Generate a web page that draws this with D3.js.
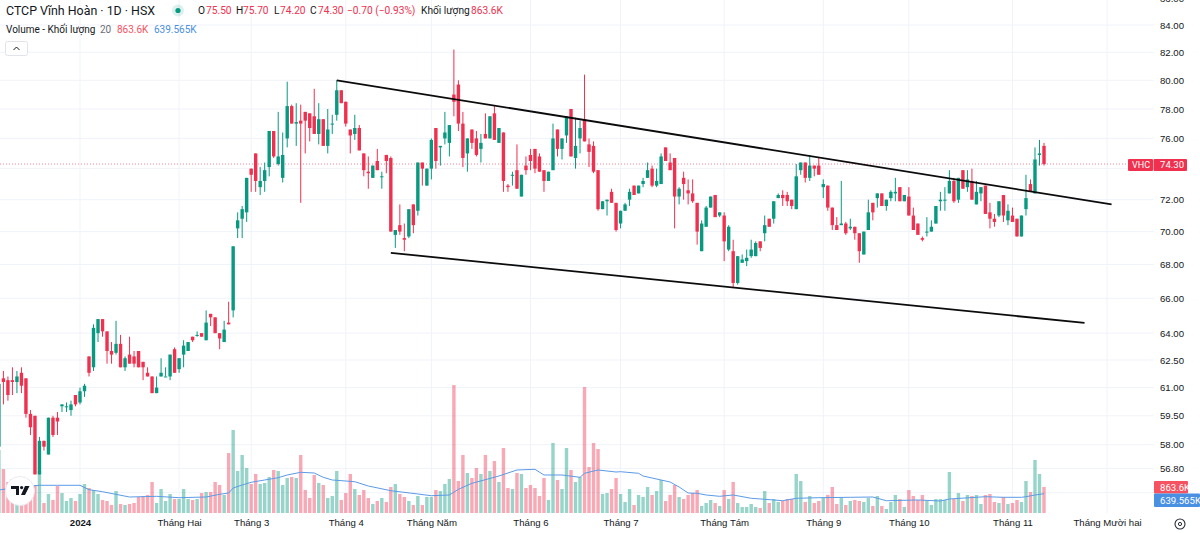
<!DOCTYPE html>
<html>
<head>
<meta charset="utf-8">
<script src="https://cdn.jsdelivr.net/npm/d3@7"></script>
<style>
  html, body { margin: 0; padding: 0; background: #fff; }
  svg { display: block; font-family: Roboto, "Liberation Sans", Arial, sans-serif; }
</style>
</head>
<body>
<div id="chart"></div>
<script>
// bar 0 is 2 Jan 2024, the first visible session sits 18 bars before it
const firstBar = -18;

const opens = [
  57.9,61.5,61.4,61.4,61.3,61.8,61.5,59.6,59.5,56.5,
  58.2,57.5,59.4,59.4,60,60,59.8,60.6,60.2,60.8,
  62.7,62.1,64,64.8,64.1,63,62.9,63.4,62.1,62.8,
  62.7,63,62.4,61.8,61.6,60.7,61.6,61.6,61.6,63.1,
  62,62.8,63,63.8,63.9,64,63.6,65.1,64.9,64,
  63.5,64.6,65.3,70.2,70.8,71.2,74,75,72.8,73.2,
  74.1,76.5,74.3,73.4,76,78.2,77,77.2,77.8,77.7,
  77.5,76.3,77.3,75.5,77,77.6,79.3,78.5,76.6,76.3,
  76.7,75,73.8,73.4,74.5,73.5,74.9,74.7,69.8,70.4,
  69.6,69.7,71.7,71.3,74.4,72.9,74,76.7,75.4,76,
  75.7,79,79.7,77,75,76.6,76,75.3,76.3,76,
  77.7,75.7,76.4,72.9,73.6,73.9,72.2,74.2,74.9,75.3,
  74.8,73.9,73.2,73.9,76.6,75.3,76.2,78,74.7,76,
  77.3,75.6,75.5,73.9,71.4,71.9,72.5,71.8,70.5,71.3,
  72,72.9,72.4,73,73.4,74,72.9,73,75.4,74.4,
  74.7,72.2,73.4,72.6,72.4,71.8,68.8,70.3,71.5,72.3,
  71,71,68.9,68.8,66.9,68.1,68.2,68.5,68.5,69.4,
  69.9,70.8,70.8,72.1,72.3,72.3,72,71.4,73.9,74.4,
  73.4,74.2,74.2,72.8,72.9,71.5,70.4,70.4,70.5,70.2,
  70.3,69.9,68.6,70.1,71.8,72.1,72.4,71.6,72.1,72.4,
  72.8,71.9,72.2,71,70.5,69.6,70,70,70.5,71.9,
  72,72.4,73.2,72,73.9,72.8,73.2,71.7,72.4,72.9,
  71.2,70.8,71,72.3,70.7,71,70.8,69.7,71.4,73,
  72.4,74.9,75.5
];

const highs = [
  61.5,61.9,61.6,62.1,61.9,62.1,61.5,59.8,59.5,58.4,
  58.2,59.4,59.5,59.7,60.1,60.2,60.3,60.6,61,61.2,
  62.7,64.5,64.8,64.8,64.1,63.5,64.7,63.9,62.7,63.8,
  63,63,62.4,62.1,61.6,61.6,62.6,62.1,62.8,63.2,
  62.6,63.6,63.5,63.8,64.1,64,65.3,65.1,64.9,64,
  64.7,65.8,69.1,71.2,71.6,73.4,74,75,74.1,74.4,
  76.5,76.5,77.8,76.4,79.9,78.3,78.4,78.3,77.8,77.7,
  79.4,78.4,77.3,78,77.6,80,79.3,78.5,76.6,77.6,
  76.9,75,74.8,74.2,75.3,73.8,74.9,74.8,70.1,71.7,
  70.5,71.4,71.7,74.4,74.4,74,76,76.7,75.5,77.8,
  76.9,82.2,80,77.8,76,76.6,76.5,76.3,77.7,77.5,
  78.2,76.7,76.4,73,73.8,75.6,73.6,74.8,75.3,75.3,
  75,73.9,73.8,77,76.6,76,77.5,78,77.4,77.2,
  80.4,76,75.8,73.9,71.9,72,72.7,71.8,71.3,71.8,
  72.7,72.9,72.9,73.4,74.4,74.2,74,75,75.4,75,
  74.7,72.8,73.8,73.3,73.3,71.8,70.7,71.6,72.2,72.3,
  71.2,71.2,70.4,69.5,68.5,68.6,68.9,69.5,69.4,69.4,
  71,70.8,71.9,72.4,72.6,72.5,72,74.3,74.4,74.4,
  74.9,74.2,74.7,73.3,72.9,71.5,70.9,73.2,70.6,70.8,
  70.3,69.9,70,72,71.8,72.4,72.4,72,72.6,73.4,
  72.8,72.3,72.8,71.5,70.5,69.7,70.9,70.7,71.6,72.5,
  72.8,73.9,73.4,73.4,73.9,73.9,74,73.2,72.8,72.9,
  71.8,71.1,71.9,72.3,71.7,71.5,70.8,71,73.6,73.3,
  75.4,75.9,75.7
];

const lows = [
  57.6,60.1,60.3,60.6,60.7,60.7,59.4,58.5,56.5,56.5,
  57.7,57.5,58.4,58.5,59.7,59.7,59.5,60,60.1,60.5,
  61.6,61.9,63.5,63.8,62.3,62.3,62.8,62.1,61.9,62.3,
  62.1,62.1,61.4,61.6,60.7,60.7,61.6,61.6,61.4,61.8,
  61.8,62.1,63,63.5,63.8,63.8,63.6,64.4,64,63.1,
  63.5,64.5,64.9,69.6,69.6,70.6,72.5,72.5,72.3,72.5,
  73.5,74.7,74.2,73.1,75.4,77,75.5,71.8,75,75.8,
  76.3,75.6,75.5,75,76.3,77.2,78.4,76.8,75,75.9,
  75.2,73.5,72.7,73.4,73.9,72.7,73.7,70,69,69.8,
  68.8,69.6,69.9,71,72.9,72.9,73.3,74,74.2,75.6,
  74.8,77.5,76.5,74.1,73.8,75.3,74.8,74.4,76,76,
  75.9,75.7,72.5,72.5,72.9,72.7,72.2,73.6,73.9,73.7,
  73.8,72.5,73.2,73.9,74.8,74.6,75.7,74.8,74,75,
  75.8,74.1,73.7,71.3,71.4,71,71.8,70,70.2,71.3,
  71.6,72.3,72.4,72.8,73.4,72.8,72.8,73,74.5,73.9,
  70.2,71.7,72,71.7,71.8,69.2,68.8,70.3,71.5,70.9,
  70.9,68.2,68.8,66.6,66.8,68.1,67.9,68.4,68.5,68.8,
  69.4,70.3,70.5,72.1,71.6,71.6,71.4,71.4,73.6,73.1,
  73.2,73.5,73.6,72.1,71.3,70.1,70.1,70.4,69.8,70.1,
  69.5,68.1,68.6,70.1,70.7,71.5,71.6,71.3,71.9,71.9,
  71.9,71.9,71,70.1,69.8,69.4,69.7,70,70.5,71.3,
  71.3,72.4,71.8,71.8,72.7,72.5,72,71.7,71.9,71.1,
  70.2,70.3,70.9,70.6,70.4,70.6,69.7,69.7,71,72.5,
  72.4,74.2,74.2
];

const closes = [
  61.2,61.3,60.6,61.3,61.6,61.1,59.6,58.9,56.5,58.2,
  57.9,59.4,58.5,59.2,60.1,60,60.1,60.1,60.8,61.1,
  61.8,64.3,64.8,64.1,63,62.8,63.4,62.1,62.6,62.3,
  62.3,62.1,62.1,61.6,60.7,61,61.8,61.6,62.8,61.8,
  62.6,63.3,63.5,63.6,63.9,63.8,64.6,64.9,64,63.7,
  64.2,64.5,69.1,70.7,71.4,73.4,73.6,73.2,73.2,73.9,
  76.5,74.8,74.8,74.9,78.2,77,77.1,77,77.2,76.7,
  76.3,77.3,75.5,76.6,77,79.3,78.4,77,76.2,76.7,
  75.2,73.9,73.7,74.2,73.9,73.5,74.5,70,70.1,70,
  69.5,71.4,70.4,74.4,74,74,75.9,74.5,75.5,76.4,
  76.9,78.5,77,74.7,76,75.7,74.9,75.7,76,77.5,
  75.9,76.7,73.2,72.8,73.6,72.7,73.6,73.9,74.5,74,
  73.8,73.2,73.8,76,75.3,76,77.5,74.8,75.5,76.7,
  75.8,75.1,73.8,71.4,71.9,72,71.8,70.1,71.3,71.7,
  72.5,72.3,72.9,73.2,73.9,72.9,73.2,74.8,74.5,73.9,
  72.2,72.7,73,72.4,71.9,70,70.5,71.5,72.2,70.9,
  71.2,69.4,70.3,66.9,68.5,68.3,68.4,68.9,69.3,69,
  70.4,70.3,71.9,72.3,72.1,71.9,71.6,73.5,74.4,73.4,
  74.2,74,73.6,73,71.5,70.4,70.1,70.5,69.9,70.3,
  69.9,68.8,70,71.2,71.2,72.4,71.6,72,72.5,72.5,
  71.9,72.3,71,70.1,69.8,69.5,70,70.3,71.6,72,
  72,73.2,71.9,73.4,72.7,73.3,72,72.5,72.8,71.1,
  70.8,70.6,71.9,71,71.3,70.6,69.7,71,72.1,72.5,
  74.6,75,74.3
];

// volume in thousands of shares
const volumes = [
  2092,1461,1029,1129,764,598,697,764,930,1394,
  332,631,432,896,664,398,498,398,631,963,
  830,764,631,432,398,266,730,299,266,299,
  332,531,564,598,1029,332,797,398,631,465,
  465,797,465,432,465,664,697,697,1029,930,
  598,1992,2756,1394,1926,1494,963,1295,963,996,
  1195,1428,1394,930,1162,1195,1162,1926,764,498,
  1262,996,930,498,564,1394,432,664,1295,797,
  598,764,498,299,398,498,365,863,963,631,
  531,398,266,564,266,531,531,764,730,963,
  1129,4250,1062,1926,1328,1162,1494,1295,1926,1394,
  1726,1029,2158,830,797,1328,1295,830,930,830,
  564,1162,432,2324,1096,797,2158,1428,1029,1195,
  4183,1527,2324,2125,631,664,797,1162,631,365,
  797,266,598,531,863,598,730,1096,398,598,
  930,531,465,598,664,764,232,332,432,332,
  232,764,465,1029,332,199,199,299,199,166,
  730,332,465,365,398,465,465,1295,1062,365,
  564,332,398,498,598,863,299,498,266,398,
  432,398,365,498,232,564,232,133,365,598,
  465,199,764,564,432,598,398,266,465,465,
  432,1361,465,664,398,598,564,598,299,598,
  631,365,332,531,299,332,432,365,1062,697,
  1760,1295,863.6
];

// 20 session volume average at its visible bends
const maBars = [-18,-14,-9,-5,0,2,5,11,17,22,28,31,33,34,36,38,41,44,46,49,52,54,56,61,64,69,75,78,82,84,87,93,97,101,103,107,111,112,115,119,120,124,125,127,131,133,135,137,139,142,145,149,152,156,159,164,171,176,179,186,191,193,201,205,209,210,212,214];
const maValues = [764,847,920,920,920,774,707,531,554,508,531,621,664,830,930,1019,1096,1172,1262,1351,1328,1185,1096,1039,896,740,631,574,598,787,986,1228,1428,1451,1262,1262,1185,1318,1428,1361,1371,1318,1228,1162,1029,863,664,654,598,554,598,488,455,408,488,508,521,531,408,432,398,465,541,521,521,541,598,639.565];

// 74 and 55.6 have gridlines but their labels sit under the tags
const gridTicks = [86,84,82,80,78,76,74,72,70,68,66,64,62.5,61,59.5,58,56.8,55.6];
const priceTicks = [86,84,82,80,78,76,72,70,68,66,64,62.5,61,59.5,58,56.8];
const monthBars = [0,22,38,59,78,100,120,143,165,184,207,228];
const monthLabels = ['2024','Tháng Hai','Tháng 3','Tháng 4','Tháng Năm','Tháng 6','Tháng 7','Tháng Tám','Tháng 9','Tháng 10','Tháng 11','Tháng Mười hai'];

// drawn channel: [bar, price] at both ends
const upperLine = [[57,80],[229,71.7]];
const lowerLine = [[69,68.7],[223,64.58]];

const lastPrice = 74.3;
const lastVolume = 863.6;
const lastMa = 639.565;

const RED = '#f0304f';
const GREEN = '#089981';
const GRID = '#f0f3fa';
const INK = '#131722';
const AXIS_FONT = 9.6;

const width = 1200;
const height = 533;

const bars = opens.map((o, i) => ({
  bar: firstBar + i, o, h: highs[i], l: lows[i], c: closes[i], v: volumes[i]
}));

const xScale = d3.scaleLinear().domain([0, 214]).range([80, 1044]);
const yScale = d3.scaleLog().domain([84, 55.6]).range([25, 492.6]);
const vScale = d3.scaleLinear().domain([0, 4250]).range([513, 385]);

const svg = d3.select('#chart').append('svg')
  .attr('width', width)
  .attr('height', height)
  .attr('viewBox', `0 0 ${width} ${height}`);

// gridlines
svg.append('g').selectAll('line').data(gridTicks).join('line')
  .attr('x1', 0).attr('x2', 1154)
  .attr('y1', d => yScale(d)).attr('y2', d => yScale(d))
  .attr('stroke', GRID);
svg.append('g').selectAll('line').data(monthBars).join('line')
  .attr('x1', d => xScale(d)).attr('x2', d => xScale(d))
  .attr('y1', 0).attr('y2', 513)
  .attr('stroke', GRID);

// volume pane
const bodyW = 3.4;
svg.append('g').selectAll('rect').data(bars).join('rect')
  .attr('x', d => xScale(d.bar) - bodyW / 2)
  .attr('y', d => vScale(d.v))
  .attr('width', bodyW)
  .attr('height', d => vScale(0) - vScale(d.v))
  .attr('fill', d => d.c < d.o ? RED : GREEN)
  .attr('fill-opacity', 0.42);

const maLine = d3.line()
  .x((d, i) => xScale(maBars[i]))
  .y(d => vScale(d));
svg.append('path')
  .attr('d', maLine(maValues))
  .attr('fill', 'none')
  .attr('stroke', '#5b9be6')
  .attr('stroke-width', 1);

// last price line
svg.append('line')
  .attr('x1', 0).attr('x2', 1128)
  .attr('y1', yScale(lastPrice)).attr('y2', yScale(lastPrice))
  .attr('stroke', RED)
  .attr('stroke-opacity', 0.6)
  .attr('stroke-dasharray', '1 2');

// candles
const candles = svg.append('g').selectAll('g').data(bars).join('g')
  .attr('fill', d => d.c < d.o ? RED : GREEN)
  .attr('stroke', d => d.c < d.o ? RED : GREEN);
candles.append('line')
  .attr('x1', d => xScale(d.bar)).attr('x2', d => xScale(d.bar))
  .attr('y1', d => yScale(d.h)).attr('y2', d => yScale(d.l))
  .attr('stroke-width', 1);
candles.append('rect')
  .attr('x', d => xScale(d.bar) - bodyW / 2)
  .attr('y', d => yScale(Math.max(d.o, d.c)))
  .attr('width', bodyW)
  .attr('height', d => Math.max(1, Math.abs(yScale(d.o) - yScale(d.c))))
  .attr('stroke', 'none');

// channel lines
const channel = d3.line()
  .x(d => xScale(d[0]))
  .y(d => yScale(d[1]));
[upperLine, lowerLine].forEach(l => {
  svg.append('path')
    .attr('d', channel(l))
    .attr('stroke', '#0b0b0d')
    .attr('stroke-width', 1.8)
    .attr('fill', 'none');
});

// axes
const yAxis = d3.axisRight(yScale)
  .tickValues(priceTicks)
  .tickSize(0)
  .tickPadding(6)
  .tickFormat(d => d3.format('.2f')(d));
svg.append('g')
  .attr('transform', 'translate(1154,0)')
  .call(yAxis)
  .call(g => g.select('.domain').remove())
  .call(g => g.selectAll('text').attr('fill', INK).attr('font-size', AXIS_FONT).attr('font-family', null));

const xAxis = d3.axisBottom(xScale)
  .tickValues(monthBars)
  .tickSize(0)
  .tickPadding(6)
  .tickFormat((d, i) => monthLabels[i]);
svg.append('g')
  .attr('transform', 'translate(0,513)')
  .call(xAxis)
  .call(g => g.select('.domain').remove())
  .call(g => g.selectAll('text')
    .attr('fill', INK)
    .attr('font-size', AXIS_FONT)
    .attr('font-family', null)
    .attr('font-weight', d => d === 0 ? 700 : 400));

// price and volume tags on the right
function tag(x, y, w, h, fill, text, tx, size) {
  svg.append('rect').attr('x', x).attr('y', y).attr('width', w).attr('height', h).attr('rx', 1).attr('fill', fill);
  svg.append('text').attr('x', tx).attr('y', y + h / 2 + 3.4)
    .attr('fill', '#fff').attr('font-size', size).text(text);
}
tag(1128, 159, 25, 12, RED, 'VHC', 1132, 9);
tag(1153.5, 159, 33.5, 12, RED, d3.format('.2f')(lastPrice), 1160, AXIS_FONT);
tag(1154, 481, 34, 12.5, '#f7525f', `${lastVolume}K`, 1160, AXIS_FONT);
tag(1154, 493.5, 46, 13.5, '#4a90e2', `${lastMa}K`, 1160, AXIS_FONT);

// header
const legend = svg.append('g');
legend.append('text').attr('x', 6).attr('y', 14.5).attr('font-size', 12.4).attr('fill', INK)
  .text('CTCP Vĩnh Hoàn · 1D · HSX');
legend.append('circle').attr('cx', 178).attr('cy', 10.5).attr('r', 6).attr('fill', '#089981').attr('fill-opacity', 0.14);
legend.append('circle').attr('cx', 178).attr('cy', 10.5).attr('r', 2.6).attr('fill', '#089981');

function label(parent, x, y, text, fill, size) {
  parent.append('text').attr('x', x).attr('y', y).attr('font-size', size).attr('fill', fill).text(text);
}
const ohlc = [
  [198, 'O', INK], [206, '75.50', RED],
  [236, 'H', INK], [243, '75.70', RED],
  [274, 'L', INK], [280, '74.20', RED],
  [310, 'C', INK], [318, '74.30', RED],
  [347, '−0.70 (−0.93%)', RED],
  [421, 'Khối lượng', INK], [471, '863.6K', RED]
];
ohlc.forEach(([x, t, c]) => label(legend, x, 14, t, c, 10.2));
label(legend, 6, 33, 'Volume - Khối lượng', INK, 10);
label(legend, 100, 33, '20', '#6a6d78', 10);
label(legend, 117, 33, '863.6K', '#f7525f', 10);
label(legend, 154, 33, '639.565K', '#4a90e2', 10);

// collapse button
legend.append('rect').attr('x', 5.5).attr('y', 41.5).attr('width', 22).attr('height', 14).attr('rx', 2)
  .attr('fill', '#fff').attr('stroke', '#e0e3eb');
legend.append('path').attr('d', 'M13.5 50 L16.5 47 L19.5 50').attr('fill', 'none').attr('stroke', INK).attr('stroke-width', 1);

// TradingView badge
const badge = svg.append('g').attr('transform', 'translate(20,491)');
badge.append('circle').attr('r', 14.5).attr('fill', '#fff').attr('stroke', '#e9ebf1');
badge.append('path').attr('d', 'M-9 -5 H-1 V4 H-4 V-2 H-9 Z M5 -5 H9.5 L5 4 H1 Z').attr('fill', '#131722');
badge.append('circle').attr('cx', 1.6).attr('cy', -3.4).attr('r', 1.6).attr('fill', '#131722');

// settings gear
const gear = svg.append('g').attr('transform', 'translate(1180,524)');
gear.append('circle').attr('r', 5).attr('fill', 'none').attr('stroke', '#2a2e39').attr('stroke-width', 1.1);
gear.append('circle').attr('r', 1.6).attr('fill', 'none').attr('stroke', '#2a2e39');
</script>
</body>
</html>
